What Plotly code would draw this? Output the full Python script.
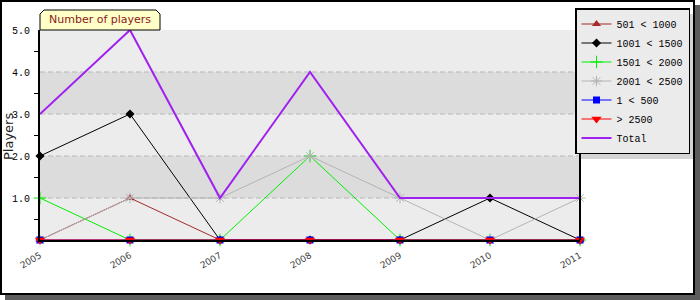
import plotly.graph_objects as go

years = [2005, 2006, 2007, 2008, 2009, 2010, 2011]
year_labels = ["2005", "2006", "2007", "2008", "2009", "2010", "2011"]

s_501_1000 = [0, 1, 0, 0, 0, 0, 0]
s_1001_1500 = [2, 3, 0, 0, 0, 1, 0]
s_1501_2000 = [1, 0, 0, 2, 0, 0, 0]
s_2001_2500 = [0, 1, 1, 2, 1, 0, 1]
s_1_500 = [0, 0, 0, 0, 0, 0, 0]
s_gt_2500 = [0, 0, 0, 0, 0, 0, 0]
s_total = [3, 5, 1, 4, 1, 1, 1]

y_tick_vals = [1, 2, 3, 4, 5]
y_tick_text = ["1.0", "2.0", "3.0", "4.0", "5.0"]

# plot area in pixels
L, R, T, B = 40, 580, 30, 240
W, H = 700, 300


def px(x):
    return (x - L) / (R - L)


def py(y):
    return (B - y) / (B - T)


series = [
    ("501 < 1000", s_501_1000, "#a52a2a", 1, dict(symbol="triangle-up", size=8, color="#a52a2a")),
    ("1001 < 1500", s_1001_1500, "#000000", 1, dict(symbol="diamond", size=7, color="#000000")),
    ("1501 < 2000", s_1501_2000, "#00ee00", 1, dict(symbol="cross-thin-open", size=9, line=dict(color="#00ee00", width=1))),
    ("2001 < 2500", s_2001_2500, "#b4b4b4", 1, dict(symbol="asterisk-open", size=9, line=dict(color="#b4b4b4", width=1))),
    ("1 < 500", s_1_500, "#0000ff", 1, dict(symbol="square", size=7, color="#0000ff")),
    ("> 2500", s_gt_2500, "#ff0000", 1, dict(symbol="triangle-down", size=9, color="#ff0000")),
    ("Total", s_total, "#a020f0", 2, None),
]

fig = go.Figure()
for name, vals, color, width, marker in series:
    if marker is None:
        fig.add_trace(go.Scatter(x=years, y=vals, name=name, mode="lines",
                                 line=dict(color=color, width=width), cliponaxis=False))
    else:
        fig.add_trace(go.Scatter(x=years, y=vals, name=name, mode="lines+markers",
                                 line=dict(color=color, width=width), marker=marker,
                                 cliponaxis=False))

shapes = []
# outer shadow and frame
shapes.append(dict(type="rect", xref="paper", yref="paper", layer="below",
                   x0=px(5), x1=px(700), y0=py(300), y1=py(5),
                   fillcolor="#5c5c5c", line=dict(width=0)))
shapes.append(dict(type="rect", xref="paper", yref="paper", layer="below",
                   x0=px(1), x1=px(694), y0=py(294), y1=py(1),
                   fillcolor="#ffffff", line=dict(color="#000000", width=2)))
# bands
band_colors = ["#ececec", "#dcdcdc", "#ececec", "#dcdcdc", "#ececec"]
for i, c in enumerate(band_colors):
    shapes.append(dict(type="rect", xref="paper", yref="y", layer="below",
                       x0=0, x1=1, y0=i, y1=i + 1, fillcolor=c, line=dict(width=0)))
for v in [1, 2, 3, 4]:
    shapes.append(dict(type="line", xref="paper", yref="y", layer="below",
                       x0=0, x1=1, y0=v, y1=v,
                       line=dict(color="#b8b8b8", width=1, dash="5px,3px")))
# right border of plot
shapes.append(dict(type="line", xref="paper", yref="paper", layer="above",
                   x0=1, x1=1, y0=0, y1=1, line=dict(color="#000000", width=2)))
# title tab
tab = "M {a},{b} L {a},{c} L {d},{e} L {f},{e} L {g},{c} L {g},{b}".format(
    a=px(40), b=py(30), c=py(14), d=px(44), e=py(10), f=px(156), g=px(160))
shapes.append(dict(type="path", xref="paper", yref="paper", layer="above",
                   path=tab + " Z", fillcolor="#ffffc8", line=dict(color="#000000", width=1)))
# legend shadow
shapes.append(dict(type="rect", xref="paper", yref="paper", layer="above",
                   x0=px(581), x1=px(693), y0=py(159), y1=py(14),
                   fillcolor="#d4d4d4", line=dict(width=0)))

fig.update_layout(
    width=W, height=H,
    margin=dict(l=L, r=W - R, t=T, b=H - B, autoexpand=False),
    paper_bgcolor="#ffffff",
    plot_bgcolor="#ececec",
    shapes=shapes,
    annotations=[
        dict(text="Number of players", xref="paper", yref="paper",
             x=px(100), y=py(20), xanchor="center", yanchor="middle", showarrow=False,
             font=dict(family="DejaVu Sans", size=11, color="#8b1a1a")),
        dict(text="Players", xref="paper", yref="paper", textangle=-90,
             x=px(8), y=py(137), xanchor="center", yanchor="middle", showarrow=False,
             font=dict(family="DejaVu Sans", size=13, color="#222222")),
    ],
    showlegend=True,
    legend=dict(x=px(575), y=py(8), xanchor="left", yanchor="top",
                bgcolor="#ebebeb", bordercolor="#000000", borderwidth=1.5,
                font=dict(family="Liberation Mono", size=10, color="#000000"),
                itemwidth=30, tracegroupgap=0),
    xaxis=dict(range=[2005, 2011], tickvals=years, ticktext=year_labels,
               tickangle=-30, showgrid=False, zeroline=False, automargin=False,
               showline=True, linecolor="#000000", linewidth=2, ticklabelstandoff=5,
               ticks="", tickfont=dict(family="DejaVu Sans", size=9, color="#444444")),
    yaxis=dict(range=[0, 5], tickvals=y_tick_vals, ticktext=y_tick_text,
               showgrid=False, zeroline=False, showline=True, automargin=False,
               linecolor="#000000", linewidth=2, ticks="", ticklabelstandoff=6,
               tickfont=dict(family="Liberation Mono", size=10, color="#000000"),
               minor=dict(tickvals=[0.5, 1.5, 2.5, 3.5, 4.5], ticks="outside",
                          ticklen=4, tickcolor="#000000", tickwidth=1)),
)

fig.write_html("out.html")
